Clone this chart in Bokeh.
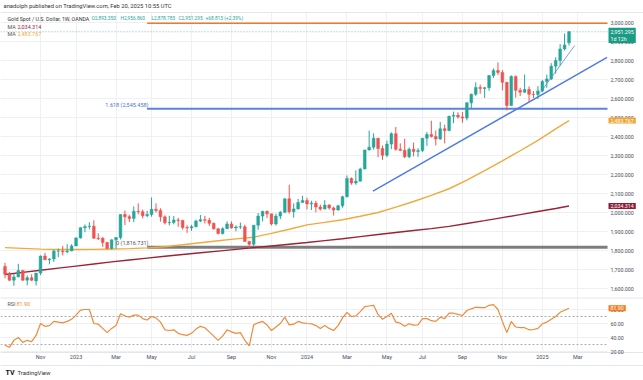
import pandas as pd
from bokeh.plotting import figure
from bokeh.models import (ColumnDataSource, FixedTicker, NumeralTickFormatter, Label, Range1d,
                          LinearAxis, DatetimeAxis, Grid)
from bokeh.embed import file_html
from bokeh.resources import INLINE

# ---------------- data ----------------
week_start = "2022-09-12"
opens = [1716, 1675, 1644, 1661, 1695, 1644, 1657, 1640, 1681, 1771, 1751, 1755, 1797, 1797, 1793, 1798,
         1824, 1866, 1920, 1926, 1928, 1865, 1865, 1842, 1811, 1856, 1868, 1989, 1978, 1969, 2007, 2004,
         1983, 1990, 2017, 2011, 1977, 1946, 1948, 1961, 1958, 1921, 1919, 1925, 1955, 1962, 1959, 1943,
         1914, 1889, 1915, 1940, 1919, 1924, 1925, 1848, 1833, 1933, 1981, 2006, 1993, 1940, 1981, 2001,
         2072, 2004, 2019, 2053, 2063, 2045, 2049, 2029, 2018, 2039, 2024, 2013, 2035, 2083, 2179, 2155,
         2165, 2229, 2329, 2344, 2391, 2337, 2301, 2360, 2415, 2333, 2327, 2293, 2333, 2321, 2326, 2391,
         2411, 2400, 2387, 2441, 2431, 2507, 2512, 2503, 2497, 2577, 2622, 2658, 2653, 2657, 2721, 2747,
         2737, 2685, 2563, 2716, 2643, 2633, 2648, 2622, 2621, 2640, 2690, 2703, 2770, 2800, 2861, 2893]
highs = [1735, 1688, 1676, 1730, 1697, 1669, 1675, 1682, 1774, 1787, 1761, 1804, 1810, 1824, 1833, 1833,
         1869, 1922, 1937, 1949, 1959, 1890, 1870, 1846, 1858, 1870, 1990, 2010, 1988, 2032, 2048, 2015,
         2009, 2079, 2048, 2022, 1985, 1983, 1982, 1972, 1962, 1933, 1935, 1963, 1987, 1982, 1971, 1947,
         1919, 1923, 1953, 1953, 1932, 1947, 1936, 1850, 1933, 1997, 2009, 2010, 1993, 1994, 2008, 2075,
         2146, 2048, 2071, 2088, 2078, 2062, 2062, 2042, 2065, 2044, 2031, 2041, 2088, 2195, 2185, 2222,
         2236, 2330, 2431, 2417, 2393, 2353, 2378, 2422, 2450, 2364, 2388, 2342, 2368, 2339, 2392, 2424,
         2483, 2432, 2477, 2462, 2509, 2531, 2528, 2529, 2581, 2626, 2685, 2673, 2660, 2722, 2758, 2790,
         2750, 2688, 2722, 2721, 2657, 2726, 2664, 2639, 2665, 2697, 2726, 2786, 2817, 2886, 2942, 2955]
lows = [1654, 1639, 1614, 1659, 1640, 1617, 1639, 1616, 1670, 1750, 1727, 1740, 1765, 1774, 1785, 1796,
        1823, 1863, 1896, 1911, 1861, 1855, 1819, 1805, 1805, 1810, 1858, 1934, 1950, 1949, 1990, 1969,
        1975, 1978, 2000, 1952, 1937, 1932, 1938, 1925, 1910, 1893, 1903, 1922, 1950, 1942, 1929, 1910,
        1885, 1884, 1913, 1915, 1901, 1913, 1846, 1810, 1823, 1909, 1953, 1970, 1932, 1931, 1965, 1996,
        1994, 1973, 2016, 2052, 2016, 2013, 2001, 2010, 2017, 2015, 1984, 2010, 2025, 2079, 2146, 2146,
        2164, 2228, 2326, 2331, 2291, 2277, 2291, 2334, 2325, 2323, 2287, 2286, 2295, 2293, 2318, 2351,
        2394, 2353, 2382, 2364, 2428, 2470, 2494, 2472, 2485, 2547, 2614, 2625, 2603, 2641, 2708, 2724,
        2643, 2537, 2560, 2605, 2613, 2630, 2583, 2603, 2597, 2633, 2656, 2697, 2731, 2772, 2852, 2879]
closes = [1675, 1644, 1661, 1695, 1644, 1657, 1644, 1681, 1771, 1751, 1755, 1797, 1797, 1793, 1798, 1824,
          1866, 1920, 1926, 1928, 1865, 1862, 1842, 1811, 1856, 1868, 1989, 1978, 1969, 2007, 2004, 1983,
          1990, 2017, 2011, 1977, 1946, 1948, 1961, 1958, 1921, 1919, 1925, 1955, 1962, 1959, 1943, 1914,
          1889, 1915, 1940, 1919, 1924, 1925, 1848, 1833, 1933, 1981, 2006, 1993, 1940, 1981, 2001, 2072,
          2004, 2019, 2053, 2063, 2045, 2049, 2029, 2018, 2039, 2024, 2013, 2035, 2083, 2179, 2155, 2165,
          2229, 2329, 2344, 2391, 2337, 2301, 2360, 2415, 2333, 2327, 2293, 2333, 2321, 2326, 2391, 2411,
          2400, 2387, 2441, 2431, 2507, 2512, 2503, 2497, 2577, 2622, 2658, 2653, 2657, 2721, 2747, 2737,
          2685, 2563, 2716, 2643, 2633, 2648, 2622, 2621, 2640, 2690, 2703, 2770, 2800, 2861, 2882, 2951.295]

# moving averages sampled every 4th week (plus last week)
ma50 = [1815, 1811, 1807, 1805, 1805, 1806, 1808, 1810, 1814, 1820, 1830, 1841, 1851, 1861, 1870, 1890,
        1912, 1935, 1948, 1962, 1980, 2000, 2028, 2058, 2090, 2125, 2170, 2220, 2272, 2325, 2380, 2440, 2483.767]
ma200 = [1674, 1685, 1696, 1707, 1718, 1729, 1740, 1750, 1760, 1770, 1779, 1788, 1797, 1806, 1815, 1824,
         1833, 1842, 1852, 1862, 1873, 1884, 1895, 1905, 1915, 1927, 1942, 1957, 1973, 1989, 2005, 2021, 2034.314]

rsi = [29, 26, 36, 40, 33, 36, 34, 43, 60, 56, 57, 63, 62, 61, 63, 66,
       72, 79, 80, 80, 60, 59, 53, 47, 53, 57, 74, 71, 69, 72, 72, 67,
       65, 70, 68, 62, 51, 50, 51, 46, 44, 43, 46, 52, 56, 54, 48, 42,
       36, 42, 51, 48, 46, 47, 36, 28, 58, 61, 63, 58, 50, 55, 60, 69,
       58, 59, 63, 61, 60, 59.6, 57, 53, 57, 53, 50, 57, 68, 76, 70, 71,
       77, 84, 85, 86, 73, 66, 70, 74.7, 62, 60.5, 56, 59.6, 57.6, 58, 67, 67,
       64, 63, 69, 67, 74.7, 74.7, 73, 71.4, 78.6, 81, 83.3, 82.6, 82.6, 86, 87, 80,
       63, 47, 63, 55, 54, 54, 51, 51.4, 53, 59.6, 62, 66, 70, 76, 79, 81.90]

fib_start = "2023-04-24"
fib_values = [1816.731, 2545.458, 2995.830]
fib_texts = ["0 (1,816.731)", "1.618 (2,545.458)"]
fib_colors = ["#7d7d7d", "#5b80e6", "#ea7a2f"]

trend1_dates = ["2024-04-14", "2025-04-18"]
trend1_prices = [2112, 2816]
trend2_dates = ["2025-01-03", "2025-02-26"]
trend2_prices = [2632, 2879]

tick_dates = ["2022-11-07", "2023-01-02", "2023-03-06", "2023-05-01", "2023-07-03", "2023-09-04",
              "2023-11-06", "2024-01-01", "2024-03-04", "2024-05-06", "2024-07-01", "2024-09-02",
              "2024-11-04", "2025-01-06", "2025-03-03"]
tick_labels = ["Nov", "2023", "Mar", "May", "Jul", "Sep", "Nov", "2024", "Mar", "May", "Jul", "Sep",
               "Nov", "2025", "Mar"]
price_ticks = [1600, 1700, 1800, 1900, 2000, 2100, 2200, 2300, 2400, 2500, 2600, 2700, 2800, 2900, 3000]
rsi_ticks = [20, 40, 60, 80]
rsi_levels = [70, 30]

# ---------------- layout constants ----------------
UP, DOWN = "#26a69a", "#ef5350"
FONT = "Roboto"
GRID = "#eef0f4"
TXT = "#4a4e59"
W, H = 643, 380

dates = pd.date_range(week_start, periods=len(closes), freq="7D")
t0 = dates[0]
day = pd.Timedelta(days=1)
x_start = t0 - 7.09 * day          # left edge of the chart
x_axis = t0 + 949.7 * day          # where the price scale starts
x_end = t0 + 1006.4 * day          # right edge of the page
P_LO, P_HI = 1115.8, 3115.8         # price range over the full height
R_LO, R_HI = -21.4, 521.4           # rsi range over the full height
PANE_BOTTOM = 1550.0                # price at the pane separator
PANE_TOP = 3052.6
RSI_BOTTOM = 18.57
TIME_BOTTOM = 0.0

colors = [UP if c >= o else DOWN for o, c in zip(opens, closes)]
src = ColumnDataSource(dict(
    x=dates, o=opens, h=highs, l=lows, c=closes,
    top=[max(o, c) for o, c in zip(opens, closes)],
    bot=[min(o, c) for o, c in zip(opens, closes)],
    color=colors))
ma_dates = list(dates[::4]) + [dates[-1]]
tick_ms = [float(pd.Timestamp(d).value // 10**6) for d in tick_dates]
axis_ms = float(x_axis.value // 10**6)
start_ms = float(x_start.value // 10**6)

p = figure(width=W, height=H, x_axis_type="datetime", x_axis_location=None, y_axis_location=None,
           x_range=Range1d(x_start, x_end), y_range=Range1d(P_LO, P_HI),
           output_backend="svg", toolbar_location=None, min_border=0)
p.extra_y_ranges = {"rsi": Range1d(R_LO, R_HI)}
p.outline_line_color = None
p.background_fill_color = "white"

# grids
p.xgrid.ticker = FixedTicker(ticks=tick_ms)
p.xgrid.grid_line_color = GRID
p.ygrid.ticker = FixedTicker(ticks=price_ticks)
p.ygrid.grid_line_color = GRID
rgrid = Grid(dimension=1, ticker=FixedTicker(ticks=rsi_ticks), y_range_name="rsi", grid_line_color=GRID)
p.add_layout(rgrid, "center")
if "cross_bounds" in Grid.properties():
    p.xgrid.cross_bounds = (1263.2, PANE_TOP)
    p.ygrid.cross_bounds = (start_ms, axis_ms)
    rgrid.cross_bounds = (start_ms, axis_ms)

# axes (placed at fixed locations inside the canvas)
def style_axis(ax, size="5.3px"):
    ax.axis_line_color = None
    ax.major_tick_line_color = None
    ax.minor_tick_line_color = None
    ax.major_tick_out = 0
    ax.major_tick_in = 0
    ax.minor_tick_out = 0
    ax.minor_tick_in = 0
    ax.major_label_text_font_size = size
    ax.major_label_text_font = FONT
    ax.major_label_text_color = TXT

yax = LinearAxis(ticker=FixedTicker(ticks=price_ticks), formatter=NumeralTickFormatter(format="0,0.000"),
                 fixed_location=axis_ms, major_label_standoff=3)
style_axis(yax)
p.add_layout(yax, "right")
rax = LinearAxis(y_range_name="rsi", ticker=FixedTicker(ticks=rsi_ticks),
                 formatter=NumeralTickFormatter(format="0.00"), fixed_location=axis_ms, major_label_standoff=3)
style_axis(rax)
p.add_layout(rax, "right")
xax = DatetimeAxis(y_range_name="rsi", ticker=FixedTicker(ticks=tick_ms), fixed_location=RSI_BOTTOM,
                   major_label_standoff=1)
xax.major_label_overrides = {t: s for t, s in zip(tick_ms, tick_labels)}
style_axis(xax, "5.5px")
p.add_layout(xax, "below")

# pane separators
sep = "#e3e6ec"
p.segment(x0=[x_start], y0=[PANE_BOTTOM], x1=[x_end], y1=[PANE_BOTTOM], line_color=sep, line_width=1)
p.segment(x0=[x_start, x_start], y0=[RSI_BOTTOM, TIME_BOTTOM], x1=[x_end, x_end],
          y1=[RSI_BOTTOM, TIME_BOTTOM], line_color=sep, line_width=1, y_range_name="rsi")
p.segment(x0=[x_start], y0=[PANE_TOP], x1=[x_end], y1=[PANE_TOP], line_color=sep, line_width=1)

# fib levels
for v, col, lw in zip(fib_values, fib_colors, [3, 2, 1.6]):
    p.segment(x0=[pd.Timestamp(fib_start)], y0=[v], x1=[x_axis], y1=[v], line_color=col, line_width=lw)
for v, t, col in zip(fib_values[:2], fib_texts, ["#555", "#4a6fd8"]):
    p.add_layout(Label(x=148, y=v, x_units="screen", y_units="data", text=t, text_align="right",
                       text_baseline="bottom", y_offset=1, text_font_size="5.5px", text_font=FONT,
                       text_color=col))

# moving averages
p.line(ma_dates, ma200, line_color="#9b2335", line_width=1.4)
p.line(ma_dates, ma50, line_color="#f0aa3c", line_width=1.4)

# trend lines
p.line(pd.to_datetime(trend1_dates), trend1_prices, line_color="#4f7be0", line_width=1.4)
p.line(pd.to_datetime(trend2_dates), trend2_prices, line_color="#6f92ea", line_width=0.9)

# last price dotted line
p.segment(x0=[x_start], y0=[closes[-1]], x1=[x_axis], y1=[closes[-1]], line_color=UP,
          line_dash="1 2", line_width=0.8, line_alpha=0.8)

# candles
wk = 7 * 24 * 3600 * 1000
p.segment(x0="x", y0="l", x1="x", y1="h", line_color="color", line_width=1, source=src)
p.vbar(x="x", width=wk * 0.62, top="top", bottom="bot", fill_color="color", line_color="color",
       line_width=0.5, source=src)

# RSI
for lvl in rsi_levels:
    p.segment(x0=[x_start], y0=[lvl], x1=[x_axis], y1=[lvl], line_color="#9598a1", line_dash="2 2",
              line_width=0.8, y_range_name="rsi")
p.line(dates, rsi, line_color="#f08a3a", line_width=1.2, y_range_name="rsi")

# texts
def lab(x, y, text, color, size="5.4px", style="normal", **kw):
    p.add_layout(Label(x=x, y=y, x_units="screen", y_units="screen", text=text,
                       text_font_size=size, text_font=FONT, text_color=color,
                       text_baseline="middle", text_font_style=style, **kw))

lab(3, 375, "anadolph published on TradingView.com, Feb 20, 2025 10:55 UTC", "#333", size="5.8px")
lab(7, 362, "Gold Spot / U.S. Dollar, 1W, OANDA", "#333", size="5.3px")
lab(91, 362, "O2,893.350", UP, size="4.8px")
lab(120, 362, "H2,956.860", UP, size="4.8px")
lab(151, 362, "L2,878.785", UP, size="4.8px")
lab(178, 362, "C2,951.295", UP, size="4.8px")
lab(205, 362, "+68.813 (+2.39%)", UP, size="4.8px")
lab(7, 354, "MA", "#555")
lab(17, 354, "2,034.314", "#9b2335")
lab(7, 347, "MA", "#555")
lab(17, 347, "2,483.767", "#f0aa3c")
lab(7, 77, "RSI", "#555")
lab(16, 77, "81.90", "#f08a3a")
lab(5, 8, "TV", "#111", size="7px", style="bold")
lab(17, 8, "TradingView", "#333", size="6px")

# price boxes on the scale
def box(y, text, bg, rng="default"):
    p.add_layout(Label(x=608, y=y, x_units="screen", y_units="data", text=text, y_range_name=rng,
                       text_font_size="5.3px", text_font=FONT, text_color="white",
                       text_baseline="middle", background_fill_color=bg, padding=(2, 1)))

p.add_layout(Label(x=608, y=closes[-1], x_units="screen", y_units="data", text="2,951.295\n1d 12h",
                   text_font_size="5.3px", text_font=FONT, text_color="white", text_baseline="top",
                   y_offset=4, background_fill_color="#1a9c84", padding=(2, 1)))
box(ma50[-1], "2,483.767", "#f0a431")
box(ma200[-1], "2,034.314", "#8e1d35")
box(rsi[-1], "81.90", "#f57c1f", rng="rsi")

open("out.html", "w").write(file_html(p, INLINE))
